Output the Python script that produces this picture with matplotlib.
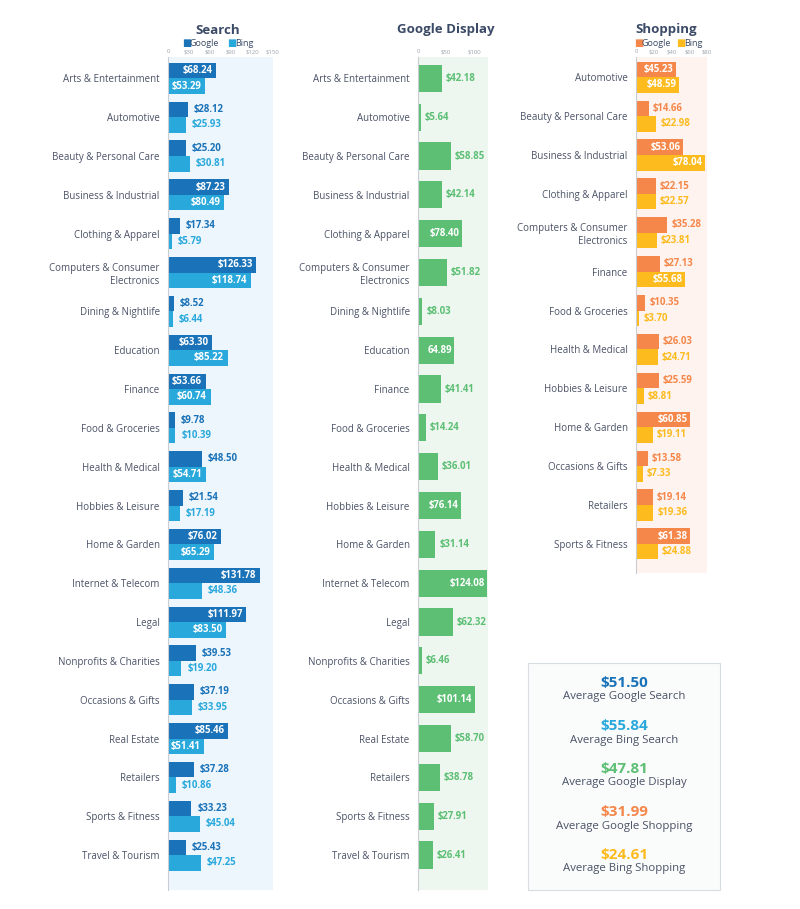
import matplotlib
matplotlib.use("Agg")
import matplotlib.pyplot as plt
from matplotlib.patches import Rectangle

plt.rcParams['font.family'] = ['Open Sans', 'DejaVu Sans']

categories = ["Arts & Entertainment", "Automotive", "Beauty & Personal Care",
              "Business & Industrial", "Clothing & Apparel",
              "Computers & Consumer\nElectronics", "Dining & Nightlife", "Education",
              "Finance", "Food & Groceries", "Health & Medical", "Hobbies & Leisure",
              "Home & Garden", "Internet & Telecom", "Legal", "Nonprofits & Charities",
              "Occasions & Gifts", "Real Estate", "Retailers", "Sports & Fitness",
              "Travel & Tourism"]
search_google = [68.24, 28.12, 25.20, 87.23, 17.34, 126.33, 8.52, 63.30, 53.66, 9.78,
                 48.50, 21.54, 76.02, 131.78, 111.97, 39.53, 37.19, 85.46, 37.28, 33.23, 25.43]
search_bing = [53.29, 25.93, 30.81, 80.49, 5.79, 118.74, 6.44, 85.22, 60.74, 10.39,
               54.71, 17.19, 65.29, 48.36, 83.50, 19.20, 33.95, 51.41, 10.86, 45.04, 47.25]
display_google = [42.18, 5.64, 58.85, 42.14, 78.40, 51.82, 8.03, 64.89, 41.41, 14.24,
                  36.01, 76.14, 31.14, 124.08, 62.32, 6.46, 101.14, 58.70, 38.78, 27.91, 26.41]
display_labels = ["$42.18", "$5.64", "$58.85", "$42.14", "$78.40", "$51.82", "$8.03", "64.89",
                  "$41.41", "$14.24", "$36.01", "$76.14", "$31.14", "$124.08", "$62.32", "$6.46",
                  "$101.14", "$58.70", "$38.78", "$27.91", "$26.41"]
shop_categories = ["Automotive", "Beauty & Personal Care", "Business & Industrial",
                   "Clothing & Apparel", "Computers & Consumer\nElectronics", "Finance",
                   "Food & Groceries", "Health & Medical", "Hobbies & Leisure",
                   "Home & Garden", "Occasions & Gifts", "Retailers", "Sports & Fitness"]
shop_google = [45.23, 14.66, 53.06, 22.15, 35.28, 27.13, 10.35, 26.03, 25.59, 60.85, 13.58, 19.14, 61.38]
shop_bing = [48.59, 22.98, 78.04, 22.57, 23.81, 55.68, 3.70, 24.71, 8.81, 19.11, 7.33, 19.36, 24.88]
averages = ["$51.50", "$55.84", "$47.81", "$31.99", "$24.61"]
average_names = ["Average Google Search", "Average Bing Search", "Average Google Display",
                 "Average Google Shopping", "Average Bing Shopping"]

C_GS = "#1a72b8"
C_BS = "#29a8dc"
C_GD = "#5cbf74"
C_GSH = "#f5874a"
C_BSH = "#fdbb1e"
TXT = "#4a5266"
TITLE = "#3b4a66"
TICK = "#9aa3ad"

W, H = 800, 909
fig = plt.figure(figsize=(8, 9.09), dpi=100)
fig.patch.set_facecolor("white")


def fx(px):
    return px / W


def fy(py):
    return 1 - py / H


def make_ax(left, right, top, bottom, xmax, ticks, ticklabels, bg):
    ax = fig.add_axes([fx(left), fy(bottom), fx(right - left), (bottom - top) / H])
    ax.set_facecolor(bg)
    ax.set_xlim(0, xmax)
    for s in ["top", "right", "bottom"]:
        ax.spines[s].set_visible(False)
    ax.spines["left"].set_color("#c9ced4")
    ax.spines["left"].set_linewidth(0.8)
    ax.xaxis.tick_top()
    ax.set_xticks(ticks)
    ax.set_xticklabels(ticklabels)
    ax.tick_params(axis="x", length=0, labelsize=4.3, labelcolor=TICK, pad=2)
    ax.tick_params(axis="y", length=0, labelsize=7, labelcolor=TXT, pad=6)
    return ax


def value_label(ax, y, v, text, color, thresh, xmax):
    pad = xmax * 0.035
    if v >= thresh:
        ax.text(v - pad, y, text, ha="right", va="center", color="white",
                fontsize=6.9, fontweight="bold")
    else:
        ax.text(v + pad * 1.6, y, text, ha="left", va="center", color=color,
                fontsize=6.9, fontweight="bold", clip_on=False)


# ---------- Search ----------
ax1 = make_ax(168, 273, 57, 890, 150, [0, 30, 60, 90, 120, 150],
              ["0", "$30", "$60", "$90", "$120", "$150"], "#edf6fc")
ys = list(range(len(categories)))
ax1.barh([y - 0.2 for y in ys], search_google, height=0.4, color=C_GS)
ax1.barh([y + 0.2 for y in ys], search_bing, height=0.4, color=C_BS)
ax1.set_ylim(len(categories) - 0.1, -0.55)
ax1.set_yticks(ys)
ax1.set_yticklabels(categories, ha="right")
for y, g, b in zip(ys, search_google, search_bing):
    value_label(ax1, y - 0.2, g, f"${g:.2f}", C_GS, 50, 150)
    value_label(ax1, y + 0.2, b, f"${b:.2f}", C_BS, 50, 150)

# ---------- Google Display ----------
ax2 = make_ax(418, 488, 57, 890, 125, [0, 50, 100], ["0", "$50", "$100"], "#edf6ef")
ax2.barh(ys, display_google, height=0.7, color=C_GD)
ax2.set_ylim(len(categories) - 0.1, -0.55)
ax2.set_yticks(ys)
ax2.set_yticklabels(categories, ha="right")
for y, v, t in zip(ys, display_google, display_labels):
    value_label(ax2, y, v, t, C_GD, 63, 125)

# ---------- Shopping ----------
ax3 = make_ax(636, 707, 57, 573, 80, [0, 20, 40, 60, 80],
              ["0", "$20", "$40", "$60", "$80"], "#fef3ee")
ys3 = list(range(len(shop_categories)))
ax3.barh([y - 0.2 for y in ys3], shop_google, height=0.4, color=C_GSH)
ax3.barh([y + 0.2 for y in ys3], shop_bing, height=0.4, color=C_BSH)
ax3.set_ylim(len(shop_categories) - 0.25, -0.52)
ax3.set_yticks(ys3)
ax3.set_yticklabels(shop_categories, ha="right")
for y, g, b in zip(ys3, shop_google, shop_bing):
    value_label(ax3, y - 0.2, g, f"${g:.2f}", C_GSH, 40, 80)
    value_label(ax3, y + 0.2, b, f"${b:.2f}", C_BSH, 40, 80)

for ax in (ax1, ax2, ax3):
    for lab in ax.get_yticklabels():
        lab.set_multialignment("right")

# ---------- Titles & mini legends ----------
fig.text(fx(218), fy(30), "Search", ha="center", va="center", fontsize=9.5,
         fontweight="bold", color=TITLE)
fig.text(fx(446), fy(30), "Google Display", ha="center", va="center", fontsize=9.5,
         fontweight="bold", color=TITLE)
fig.text(fx(666), fy(30), "Shopping", ha="center", va="center", fontsize=9.5,
         fontweight="bold", color=TITLE)


def mini_legend(x0, c1, x1, c2):
    fig.text(fx(x0), fy(43), "\u25a0", ha="left", va="center", fontsize=7,
             color=c1, family=["DejaVu Sans"])
    fig.text(fx(x0 + 8), fy(43), "Google", ha="left", va="center", fontsize=6.5,
             color=TITLE)
    fig.text(fx(x1), fy(43), "\u25a0", ha="left", va="center", fontsize=7,
             color=c2, family=["DejaVu Sans"])
    fig.text(fx(x1 + 8), fy(43), "Bing", ha="left", va="center", fontsize=6.5,
             color=TITLE)


mini_legend(182, C_GS, 227, C_BS)
mini_legend(634, C_GSH, 676, C_BSH)

# ---------- Averages box ----------
box = Rectangle((fx(528), fy(890)), fx(720 - 528), (890 - 663) / H,
                transform=fig.transFigure, facecolor="#fafbfb",
                edgecolor="#d8dde1", linewidth=0.8)
fig.patches.append(box)
avg_colors = [C_GS, C_BS, C_GD, C_GSH, C_BSH]
for i, (v, n, c) in enumerate(zip(averages, average_names, avg_colors)):
    yv = 683 + i * 43
    fig.text(fx(624), fy(yv), v, ha="center", va="center", fontsize=11,
             fontweight="bold", color=c)
    fig.text(fx(624), fy(yv + 14), n, ha="center", va="center", fontsize=8.2,
             color=TXT)

fig.savefig("out.png", dpi=100, facecolor="white")
